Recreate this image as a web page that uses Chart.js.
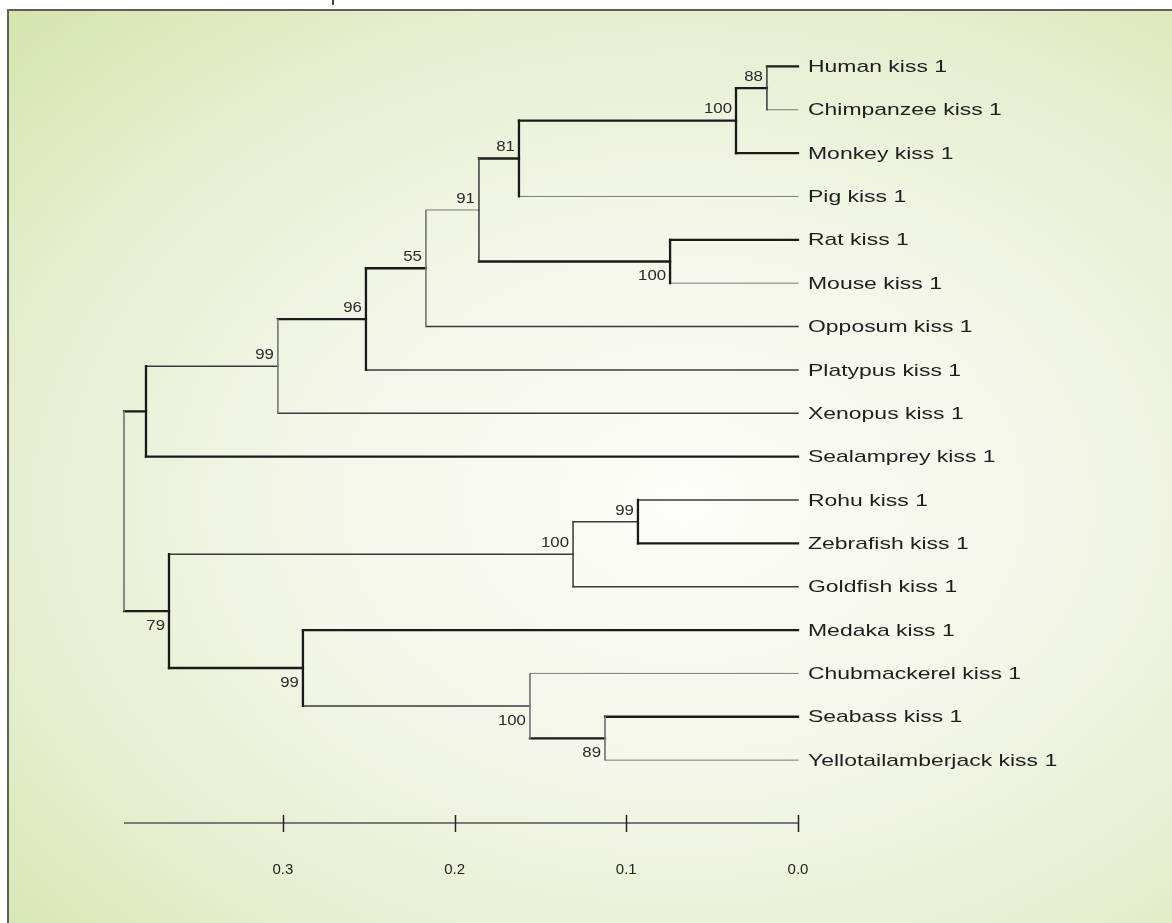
<!DOCTYPE html>
<html>
<head>
<meta charset="utf-8">
<title>Kiss1 phylogeny</title>
<script src="https://cdn.jsdelivr.net/npm/chart.js@4/dist/chart.umd.min.js"></script>
<style>
  html, body { margin: 0; padding: 0; background: #fff; }
  #wrap { position: relative; width: 1172px; height: 923px; overflow: hidden; }
  #frame {
    position: absolute; left: 7px; top: 9px; right: 0; bottom: 0;
    border-left: 2px solid #5d6157; border-top: 2px solid #5d6157;
    background: radial-gradient(ellipse farthest-corner at 58% 54%, #fdfdfa 0%, #f3f6e8 40%, #e6eecf 72%, #d6e4ad 100%);
  }
  #nib { position: absolute; left: 332px; top: 0; width: 2px; height: 5px; background: #444; }
  #tree { position: absolute; left: 0; top: 0; }
</style>
</head>
<body>
<div id="wrap">
  <div id="frame"></div>
  <div id="nib"></div>
  <canvas id="tree" width="1172" height="923"></canvas>
</div>
<script>
// leaves, top to bottom
var leafNames = ['Human kiss 1', 'Chimpanzee kiss 1', 'Monkey kiss 1', 'Pig kiss 1', 'Rat kiss 1',
  'Mouse kiss 1', 'Opposum kiss 1', 'Platypus kiss 1', 'Xenopus kiss 1', 'Sealamprey kiss 1',
  'Rohu kiss 1', 'Zebrafish kiss 1', 'Goldfish kiss 1', 'Medaka kiss 1', 'Chubmackerel kiss 1',
  'Seabass kiss 1', 'Yellotailamberjack kiss 1'];

// internal nodes: distance from the tips, children (leaf index or node id), bootstrap
var nodeIds      = ['hc', 'pri', 'n81', 'rm', 'n91', 'n55', 'n96', 'n99a', 'A', 'rz', 'cyp', 'sy', 'cs', 'med', 'B', 'root'];
var nodeDepth    = [0.0181, 0.0361, 0.1625, 0.0745, 0.1858, 0.2167, 0.2516, 0.3029, 0.3797, 0.0932, 0.1310, 0.1124, 0.1561, 0.2883, 0.3663, 0.3925];
var nodeChildren = [[0, 1], ['hc', 2], ['pri', 3], [4, 5], ['n81', 'rm'], ['n91', 6], ['n55', 7], ['n96', 8], ['n99a', 9],
  [10, 11], ['rz', 12], [15, 16], [14, 'sy'], [13, 'cs'], ['cyp', 'med'], ['A', 'B']];
var nodeSupport  = [88, 100, 81, 100, 91, 55, 96, 99, null, 99, 100, 89, 100, 99, 79, null];

var scaleTicks = [0.0, 0.1, 0.2, 0.3];

// drawing styles
var pens = {
  thick: { color: '#1a1a1a', width: 2.3 },
  mid:   { color: '#3a3a3a', width: 1.5 },
  thin:  { color: '#7a7a7a', width: 1 }
};
var vertPen = { hc: 'mid', pri: 'thick', n81: 'thick', rm: 'thick', n91: 'mid', n55: 'thin', n96: 'thick', n99a: 'thin',
  A: 'thick', rz: 'thick', cyp: 'mid', sy: 'thin', cs: 'thin', med: 'thick', B: 'thick', root: 'thin' };
var branchPen = {
  0: 'thick', 1: 'thin', 2: 'thick', 3: 'thin', 4: 'thick', 5: 'thin', 6: 'mid', 7: 'mid', 8: 'mid', 9: 'thick',
  10: 'mid', 11: 'thick', 12: 'mid', 13: 'thick', 14: 'thin', 15: 'thick', 16: 'thin',
  hc: 'thick', pri: 'thick', n81: 'thick', rm: 'thick', n91: 'thin', n55: 'thick', n96: 'thick', n99a: 'mid',
  A: 'thick', rz: 'mid', cyp: 'mid', sy: 'thick', cs: 'mid', med: 'thick', B: 'thick'
};
var labelBelow = { rm: true, sy: true, cs: true, med: true, B: true };

// node positions: tips at depth 0, parents centred on their children
var pos = {};
leafNames.forEach(function (n, i) { pos[i] = { x: 0, y: i }; });
nodeIds.forEach(function (id, k) {
  var ys = nodeChildren[k].map(function (c) { return pos[c].y; });
  pos[id] = { x: nodeDepth[k], y: (Math.min.apply(null, ys) + Math.max.apply(null, ys)) / 2 };
});

function seg(points, penName) {
  var p = pens[penName];
  return {
    data: points, showLine: true, borderColor: p.color, borderWidth: p.width,
    pointRadius: 0, borderCapStyle: 'square', clip: false
  };
}

var datasets = [];
nodeIds.forEach(function (id, k) {
  var d = nodeDepth[k];
  var ys = nodeChildren[k].map(function (c) { return pos[c].y; });
  datasets.push(seg([{ x: d, y: Math.min.apply(null, ys) }, { x: d, y: Math.max.apply(null, ys) }], vertPen[id]));
  nodeChildren[k].forEach(function (c) {
    datasets.push(seg([{ x: d, y: pos[c].y }, { x: pos[c].x, y: pos[c].y }], branchPen[c]));
  });
});

var textFont = '"Liberation Sans", Arial, sans-serif';

function stretchText(ctx, txt, x, y, sx, align) {
  ctx.save();
  ctx.translate(x, y);
  ctx.scale(sx, 1);
  ctx.textAlign = align;
  ctx.fillText(txt, 0, 0);
  ctx.restore();
}

var treeText = {
  id: 'treeText',
  afterDatasetsDraw: function (chart) {
    var ctx = chart.ctx, xs = chart.scales.x, ys = chart.scales.y;

    // scale bar along the bottom edge of the plot area
    var barY = ys.bottom;
    ctx.save();
    ctx.strokeStyle = '#7a7a7a';
    ctx.lineWidth = 2;
    ctx.beginPath();
    ctx.moveTo(xs.left, barY);
    ctx.lineTo(xs.getPixelForValue(0), barY);
    ctx.stroke();
    ctx.strokeStyle = '#222';
    ctx.lineWidth = 1.5;
    scaleTicks.forEach(function (t) {
      var px = Math.round(xs.getPixelForValue(t)) + 0.5;
      ctx.beginPath();
      ctx.moveTo(px, barY - 8);
      ctx.lineTo(px, barY + 9);
      ctx.stroke();
    });

    // leaf names
    ctx.fillStyle = '#1e1e1e';
    ctx.textBaseline = 'middle';
    ctx.font = '17px ' + textFont;
    leafNames.forEach(function (n, i) {
      stretchText(ctx, n, xs.getPixelForValue(0) + 10, ys.getPixelForValue(i) + 1, 1.35, 'left');
    });

    // bootstrap values
    ctx.font = '14px ' + textFont;
    ctx.fillStyle = '#2a2a2a';
    nodeIds.forEach(function (id, k) {
      if (nodeSupport[k] == null) return;
      var px = xs.getPixelForValue(nodeDepth[k]) - 4;
      var py = ys.getPixelForValue(pos[id].y) + (labelBelow[id] ? 15 : -11);
      stretchText(ctx, String(nodeSupport[k]), px, py, 1.2, 'right');
    });
    ctx.restore();
  }
};

new Chart(document.getElementById('tree'), {
  type: 'scatter',
  data: { datasets: datasets },
  options: {
    responsive: false,
    animation: false,
    events: [],
    layout: { padding: { top: 23, left: 124, right: 374, bottom: 14 } },
    plugins: { legend: { display: false }, tooltip: { enabled: false } },
    scales: {
      x: {
        type: 'linear', reverse: true, min: 0, max: 0.3925,
        border: { display: false },
        grid: { display: false },
        afterBuildTicks: function (axis) { axis.ticks = scaleTicks.map(function (v) { return { value: v }; }); },
        ticks: {
          padding: 30, color: '#222', font: { family: textFont, size: 15 },
          callback: function (v) { return Number(v).toFixed(1); }
        }
      },
      y: { type: 'linear', reverse: true, min: -1, max: 17.45, display: false }
    }
  },
  plugins: [treeText]
});
</script>
</body>
</html>
